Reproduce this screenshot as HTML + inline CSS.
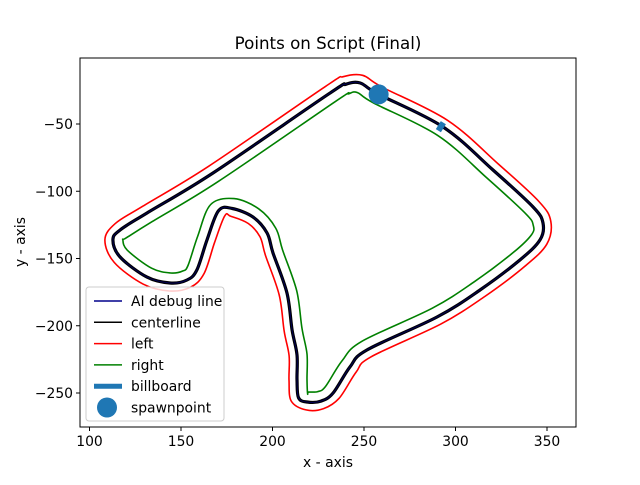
<!DOCTYPE html>
<html><head><meta charset="utf-8"><style>
body{margin:0;background:#fff}
svg text{font-family:"DejaVu Sans","Liberation Sans",sans-serif;fill:#000}
</style></head><body>
<svg id="chart" width="640" height="480" viewBox="0 0 640 480">
<rect width="640" height="480" fill="#fff"/>
<text x="328" y="49" font-size="16.7" text-anchor="middle">Points on Script (Final)</text>
<g id="plot"></g>
<g id="axes"></g>
<text x="328" y="467" font-size="13.9" text-anchor="middle">x - axis</text>
<text transform="translate(25,242) rotate(-90)" font-size="13.9" text-anchor="middle">y - axis</text>
<g id="legend"></g>
</svg>
<script>
const centerX=[248.0,257.6,293.2,320.5,342.4,347.8,346.2,335.2,313.4,289.9,251.6,242.3,233.1,226.5,219.0,214.2,213.4,213.4,210.7,207.9,200.3,197.0,189.3,178.0,170.5,164.2,158.7,153.3,144.0,131.4,116.7,112.8,116.7,131.4,167.5,231.4,240.0];
const centerY=[-19.5,-27.7,-52.2,-84.2,-111.7,-123.6,-136.2,-151.1,-173.4,-193.5,-218.0,-230.7,-250.0,-256.0,-256.7,-253.5,-240.0,-221.7,-203.2,-175.7,-145.9,-131.0,-119.1,-112.8,-114.5,-136.2,-158.5,-166.0,-168.2,-163.8,-148.9,-136.2,-128.8,-116.2,-86.4,-27.0,-20.5];
const leftOffset=[8];
const rightOffset=[-10];
const spawnX=[258];const spawnY=[-28];
const billboardX=[292];const billboardY=[-52];
const xTicks=[100,150,200,250,300,350];
const yTicks=[-50,-100,-150,-200,-250];
const NS="http://www.w3.org/2000/svg";
function sx(x){return 89.5+(x-100)*1.83;}
function sy(y){return 124+(-50-y)*1.345;}
function mk(t,a,p){const e=document.createElementNS(NS,t);for(const k in a)e.setAttribute(k,a[k]);p.appendChild(e);return e;}
const plot=document.getElementById('plot'),axes=document.getElementById('axes'),leg=document.getElementById('legend');
const pts=centerX.map((x,i)=>[sx(x),sy(centerY[i])]);
function offsetPts(off){
  const n=pts.length,out=[];
  for(let i=0;i<n;i++){
    const a=pts[(i-1+n)%n],b=pts[(i+1)%n];
    let dx=b[0]-a[0],dy=b[1]-a[1];const L=Math.hypot(dx,dy)||1;dx/=L;dy/=L;
    out.push([pts[i][0]+dy*off,pts[i][1]-dx*off]);
  }
  return out;
}
function smooth(p){
  const n=p.length;let d="M"+p[0][0].toFixed(1)+","+p[0][1].toFixed(1);
  for(let i=0;i<n;i++){
    const p0=p[(i-1+n)%n],p1=p[i],p2=p[(i+1)%n],p3=p[(i+2)%n];
    const c1=[p1[0]+(p2[0]-p0[0])/6,p1[1]+(p2[1]-p0[1])/6],c2=[p2[0]-(p3[0]-p1[0])/6,p2[1]-(p3[1]-p1[1])/6];
    d+=" C"+c1.map(v=>v.toFixed(1))+" "+c2.map(v=>v.toFixed(1))+" "+p2.map(v=>v.toFixed(1));
  }
  return d+"Z";
}
let e;
e=mk('path',{d:smooth(offsetPts(leftOffset[0])),fill:'none',stroke:'#ff0000','stroke-width':1.6,'stroke-linejoin':'round'},plot);

e=mk('path',{d:smooth(offsetPts(rightOffset[0])),fill:'none',stroke:'#008000','stroke-width':1.6,'stroke-linejoin':'round'},plot);

e=mk('path',{d:smooth(pts),fill:'none',stroke:'#000','stroke-width':3.2,'stroke-linejoin':'round'},plot);

e=mk('path',{d:smooth(pts),fill:'none',stroke:'#00008b','stroke-width':1,'stroke-opacity':0.6},plot);

const bx=sx(billboardX[0]),by=sy(billboardY[0]);
e=mk('line',{x1:bx-2.5,y1:by+4,x2:bx+2.5,y2:by-4,stroke:'#1f77b4','stroke-width':6},plot);

e=mk('circle',{cx:sx(spawnX[0]),cy:sy(spawnY[0]),r:10,fill:'#1f77b4'},plot);

e=mk('rect',{x:80,y:58,width:496,height:369,fill:'none',stroke:'#000','stroke-width':1},axes);

xTicks.forEach(t=>{const x=sx(t);
 e=mk('line',{x1:x,y1:427,x2:x,y2:431,stroke:'#000'},axes);
 e=mk('text',{x:x,y:446,'font-size':13.9,'text-anchor':'middle'},axes);e.textContent=t;});
yTicks.forEach(t=>{const y=sy(t);
 e=mk('line',{x1:76,y1:y,x2:80,y2:y,stroke:'#000'},axes);
 e=mk('text',{x:73,y:y+5,'font-size':13.9,'text-anchor':'end'},axes);e.textContent='\u2212'+Math.abs(t);});
e=mk('rect',{x:86,y:287,width:138,height:134,rx:3,fill:'#fff','fill-opacity':0.8,stroke:'#ccc'},leg);

const items=[['AI debug line','#00008b',1.5,'line'],['centerline','#000',1.5,'line'],['left','#ff0000',1.5,'line'],['right','#008000',1.5,'line'],['billboard','#1f77b4',5,'line'],['spawnpoint','#1f77b4',0,'dot']];
items.forEach((it,i)=>{const y=301+i*21.3;
 if(it[3]==='line'){e=mk('line',{x1:94,y1:y,x2:122,y2:y,stroke:it[1],'stroke-width':it[2]},leg);}
 else{e=mk('circle',{cx:107,cy:y,r:10,fill:it[1]},leg);}
 
 e=mk('text',{x:131,y:y+5,'font-size':13.9},leg);e.textContent=it[0];
 });
</script>
</body></html>
